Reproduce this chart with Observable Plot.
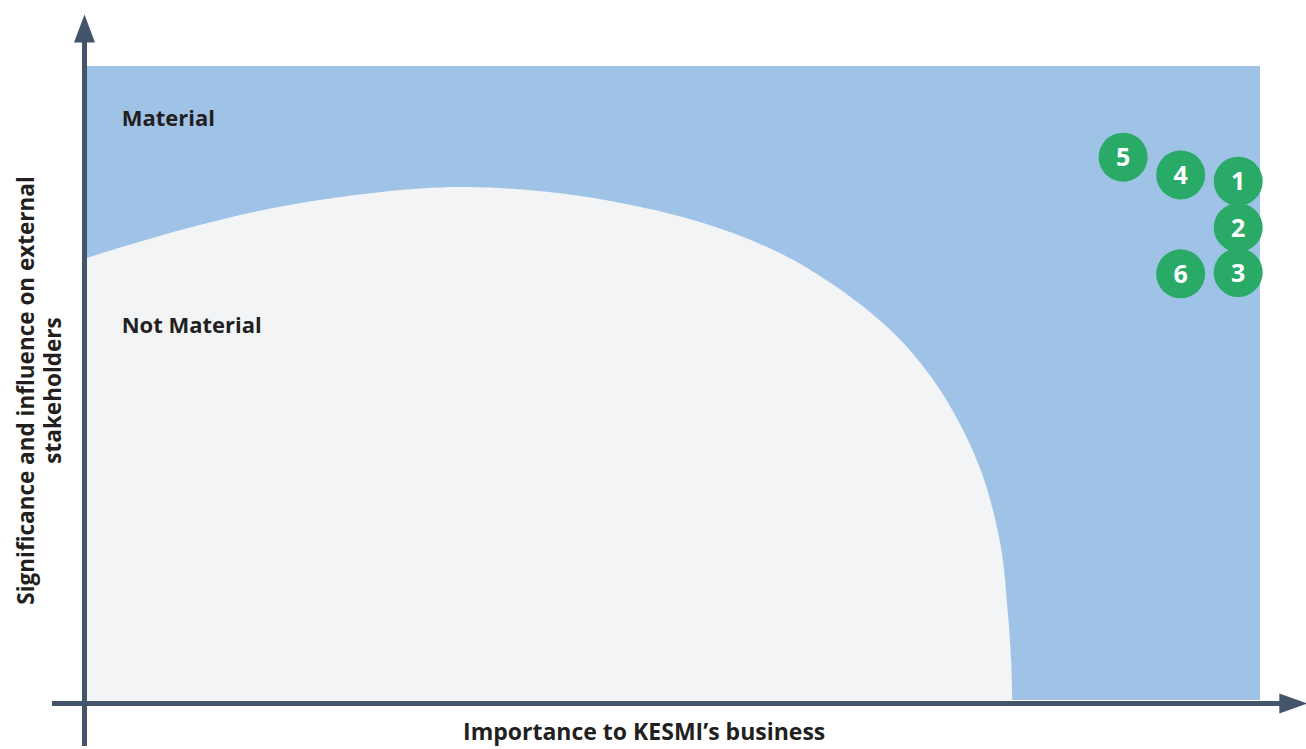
<!DOCTYPE html>
<html>
<head>
<meta charset="utf-8">
<script src="https://cdn.jsdelivr.net/npm/d3@7"></script>
<script src="https://cdn.jsdelivr.net/npm/@observablehq/plot@0.6"></script>
<style>
  html, body { margin: 0; padding: 0; background: #ffffff; }
  #chart svg { display: block; }
</style>
</head>
<body>
<div id="chart"></div>
<script>
// Topics (numbered bubbles)
const topicIds = ["1", "2", "3", "4", "5", "6"];
const topicBusiness = [98.1, 98.1, 98.1, 93.2, 88.3, 93.2];      // x: importance to business
const topicStakeholder = [81.9, 74.6, 67.5, 82.9, 85.7, 67.3];   // y: significance to stakeholders

// Materiality threshold boundary (top edge of the "Not Material" zone)
const boundaryX = [0, 8.0, 16.5, 25.0, 32.5, 42.1, 52.3, 59.1, 63.4, 67.6, 70.4, 73.3, 76.2, 77.9, 78.5, 78.8, 78.9];
const boundaryY = [69.7, 74.1, 77.8, 80.1, 80.9, 79.5, 75.4, 70.5, 65.8, 59.9, 54.7, 47.3, 36.3, 24.4, 14.2, 6.3, 0];

// Zone labels
const zoneLabels = ["Material", "Not Material"];
const zoneLabelX = [3.0, 3.0];
const zoneLabelY = [91.8, 59.0];

// Axis titles
const xTitle = "Importance to KESMI’s business";
const yTitle = "Significance and influence on external\nstakeholders";

const topics = topicIds.map((id, i) => ({id, x: topicBusiness[i], y: topicStakeholder[i]}));
const boundary = boundaryX.map((x, i) => ({x, y: boundaryY[i]}));
const zones = zoneLabels.map((label, i) => ({label, x: zoneLabelX[i], y: zoneLabelY[i]}));

// custom filled arrowheads
const arrowUp = {draw(ctx) { ctx.moveTo(0, -28); ctx.lineTo(10.5, 0); ctx.lineTo(-10.5, 0); ctx.closePath(); }};
const arrowRight = {draw(ctx) { ctx.moveTo(28, 0); ctx.lineTo(0, -10); ctx.lineTo(0, 10); ctx.closePath(); }};

const axisColor = "#44546a";
const font = "'Open Sans', 'Noto Sans', sans-serif";

const chart = Plot.plot({
  width: 1306,
  height: 749,
  marginLeft: 86,
  marginRight: 46,
  marginTop: 66,
  marginBottom: 49,
  x: {domain: [0, 100], axis: null},
  y: {domain: [0, 100], axis: null},
  style: {fontFamily: font, background: "#ffffff"},
  marks: [
    Plot.rect([{}], {x1: 0, x2: 100, y1: 0, y2: 100, fill: "#9fc3e6"}),
    Plot.areaY(boundary, {x: "x", y: "y", y1: 0, fill: "#f3f4f6", curve: "catmull-rom"}),
    // axes
    Plot.ruleX([-0.17], {y1: -7.26, y2: 104.0, stroke: axisColor, strokeWidth: 5}),
    Plot.ruleY([-0.47], {x1: -2.9, x2: 101.7, stroke: axisColor, strokeWidth: 5}),
    Plot.dot([{x: -0.17, y: 103.8}], {x: "x", y: "y", symbol: arrowUp, fill: axisColor, stroke: null}),
    Plot.dot([{x: 101.6, y: -0.47}], {x: "x", y: "y", symbol: arrowRight, fill: axisColor, stroke: null}),
    // zone labels
    Plot.text(zones, {x: "x", y: "y", text: "label", textAnchor: "start", fontSize: 22, fontWeight: 700, fill: "#231f20"}),
    // topics
    Plot.dot(topics, {x: "x", y: "y", r: 24.5, fill: "#29ab67", stroke: null}),
    Plot.text(topics, {x: "x", y: "y", text: "id", fill: "#ffffff", fontSize: 25, fontWeight: 700, dy: 1}),
    // axis titles
    Plot.text([xTitle], {x: 47.5, y: -5.05, text: d => d, fontSize: 23, fontWeight: 700, fill: "#231f20"}),
    Plot.text([yTitle], {x: -4.1, y: 48.9, text: d => d, rotate: -90, fontSize: 22.5, fontWeight: 700, lineHeight: 1.2, fill: "#231f20"})
  ]
});
document.getElementById("chart").append(chart);
</script>
</body>
</html>
